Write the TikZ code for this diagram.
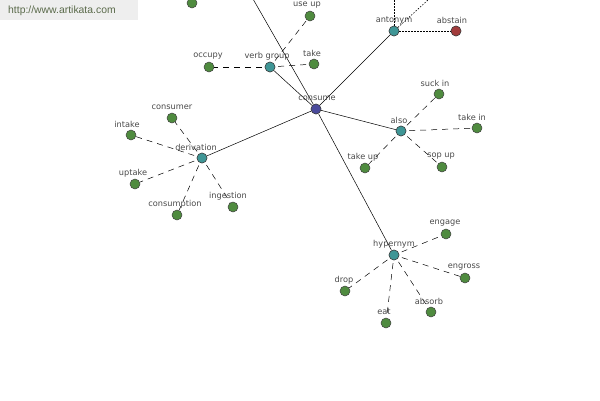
\documentclass[tikz,border=0pt]{standalone}
\usepackage{fontspec}
\setmainfont{DejaVu Sans}
\newfontfamily\wmfont{Liberation Sans}
\definecolor{leafc}{HTML}{4F8B3F}
\definecolor{hubc}{HTML}{3F9696}
\definecolor{rootc}{HTML}{4A4A9C}
\definecolor{antc}{HTML}{A23C3C}
\definecolor{labc}{HTML}{484848}
\definecolor{wmbg}{HTML}{EEEEEE}
\definecolor{wmtx}{HTML}{5A6A4A}
\begin{document}
\begin{tikzpicture}[x=1pt,y=-1pt,
  dotnode/.style={circle,draw=black!75,line width=0.5pt,minimum size=10pt,inner sep=0pt},
  leaf/.style={dotnode,fill=leafc},
  hub/.style={dotnode,fill=hubc},
  root/.style={dotnode,fill=rootc},
  anti/.style={dotnode,fill=antc},
  lbl/.style={font=\fontsize{8.2}{9}\selectfont,text=labc,inner sep=0pt},
  solidedge/.style={line width=0.5pt,black},
  reledge/.style={line width=0.5pt,black,dash pattern=on 6pt off 5pt,shorten <=3pt},
  dotedge/.style={line width=0.6pt,black,dash pattern=on 1.5pt off 1.5pt}]
\useasboundingbox (0,0) rectangle (600,400);
\clip (0,0) rectangle (600,400);
% off-screen coordinates
\coordinate (offA) at (241,-22);
\coordinate (offB) at (394,-22);
\coordinate (offC) at (452,-22);
% nodes
\node[root] (consume) at (316,109) {};
\node[hub] (verbgroup) at (270,67) {};
\node[leaf] (occupy) at (209,67) {};
\node[leaf] (useup) at (310,16) {};
\node[leaf] (take) at (314,64) {};
\node[hub] (antonym) at (394,31) {};
\node[anti] (abstain) at (456,31) {};
\node[hub] (also) at (401,131) {};
\node[leaf] (suckin) at (439,94) {};
\node[leaf] (takein) at (477,128) {};
\node[leaf] (takeup) at (365,168) {};
\node[leaf] (sopup) at (442,167) {};
\node[hub] (hypernym) at (394,255) {};
\node[leaf] (engage) at (446,234) {};
\node[leaf] (engross) at (465,278) {};
\node[leaf] (absorb) at (431,312) {};
\node[leaf] (eat) at (386,323) {};
\node[leaf] (drop) at (345,291) {};
\node[hub] (derivation) at (202,158) {};
\node[leaf] (consumer) at (172,118) {};
\node[leaf] (intake) at (131,135) {};
\node[leaf] (uptake) at (135,184) {};
\node[leaf] (consumption) at (177,215) {};
\node[leaf] (ingestion) at (233,207) {};
\node[leaf] (topleaf) at (192,3) {};
% edges
\draw[solidedge] (consume) -- (verbgroup);
\draw[solidedge] (consume) -- (antonym);
\draw[solidedge] (consume) -- (also);
\draw[solidedge] (consume) -- (derivation);
\draw[solidedge] (consume) -- (hypernym);
\draw[solidedge] (consume) -- (offA);
\draw[reledge] (verbgroup) -- (occupy);
\draw[reledge] (verbgroup) -- (useup);
\draw[reledge] (verbgroup) -- (take);
\draw[dotedge] (antonym) -- (abstain);
\draw[dotedge] (antonym) -- (offB);
\draw[dotedge] (antonym) -- (offC);
\draw[reledge] (also) -- (suckin);
\draw[reledge] (also) -- (takein);
\draw[reledge] (also) -- (takeup);
\draw[reledge] (also) -- (sopup);
\draw[reledge] (hypernym) -- (engage);
\draw[reledge] (hypernym) -- (engross);
\draw[reledge] (hypernym) -- (absorb);
\draw[reledge] (hypernym) -- (eat);
\draw[reledge] (hypernym) -- (drop);
\draw[reledge] (derivation) -- (consumer);
\draw[reledge] (derivation) -- (intake);
\draw[reledge] (derivation) -- (uptake);
\draw[reledge] (derivation) -- (consumption);
\draw[reledge] (derivation) -- (ingestion);
% labels
\node[lbl] (l-consume) at (317,98) {consume};
\node[lbl] (l-verbgroup) at (267,56) {verb group};
\node[lbl] (l-occupy) at (208,56) {occupy};
\node[lbl] (l-useup) at (307,5) {use up};
\node[lbl] (l-take) at (312,53) {take};
\node[lbl] (l-antonym) at (394,20) {antonym};
\node[lbl] (l-abstain) at (452,20) {abstain};
\node[lbl] (l-also) at (399,120) {also};
\node[lbl] (l-suckin) at (435,83) {suck in};
\node[lbl] (l-takein) at (472,117) {take in};
\node[lbl] (l-takeup) at (363,157) {take up};
\node[lbl] (l-sopup) at (441,156) {sop up};
\node[lbl] (l-hypernym) at (394,244) {hypernym};
\node[lbl] (l-engage) at (445,223) {engage};
\node[lbl] (l-engross) at (464,267) {engross};
\node[lbl] (l-absorb) at (429,301) {absorb};
\node[lbl] (l-eat) at (384,312) {eat};
\node[lbl] (l-drop) at (344,280) {drop};
\node[lbl] (l-derivation) at (196,147) {derivation};
\node[lbl] (l-consumer) at (172,107) {consumer};
\node[lbl] (l-intake) at (127,124) {intake};
\node[lbl] (l-uptake) at (133,173) {uptake};
\node[lbl] (l-consumption) at (175,204) {consumption};
\node[lbl] (l-ingestion) at (228,196) {ingestion};
% redraw nodes on top of edges
\foreach \n/\s in {consume/root,verbgroup/hub,antonym/hub,also/hub,hypernym/hub,derivation/hub,abstain/anti}{
  \node[\s] (re-\n) at (\n) {};
}
% watermark
\fill[wmbg] (0,0) rectangle (138,20);
\node[anchor=west,inner sep=0pt,text=wmtx,font=\wmfont\fontsize{10.4}{12}\selectfont] (wm) at (8,11) {http://www.artikata.com};
\end{tikzpicture}
\end{document}
